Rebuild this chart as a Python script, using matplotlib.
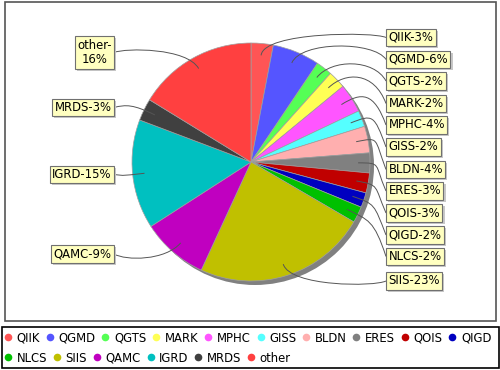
import numpy as np
import matplotlib
matplotlib.use("Agg")
import matplotlib.pyplot as plt
import matplotlib.patheffects as pe
from matplotlib.path import Path
from matplotlib.patches import PathPatch, Rectangle, Circle
from matplotlib.lines import Line2D

# --- data ---
names = ["QIIK", "QGMD", "QGTS", "MARK", "MPHC", "GISS", "BLDN", "ERES",
         "QOIS", "QIGD", "NLCS", "SIIS", "QAMC", "IGRD", "MRDS", "other"]
shares = [3.0, 6.4, 2.2, 2.4, 3.9, 2.2, 3.6, 2.7,
          2.7, 2.0, 2.2, 23.4, 9.0, 14.8, 3.0, 16.2]
colors = ["#FF5555", "#5555FF", "#55FF55", "#FFFF55", "#FF55FF", "#55FFFF",
          "#FFAFAF", "#808080", "#C00000", "#0000C0", "#00C000", "#C0C000",
          "#C000C0", "#00C0C0", "#404040", "#FF4040"]

# label layout (pixels from top): right side in order, left side by name
right_label_y = [37.5, 59.5, 81, 103.5, 125, 147, 169.5, 191, 213, 235, 256.5, 281]
left_label_y = {"QAMC": 254, "IGRD": 174.5, "MRDS": 107.5, "other": 52.5}

W, H = 500, 370
cx, cy, R = 251, 162, 119

fig = plt.figure(figsize=(5, 3.7), dpi=100)
ax = fig.add_axes([0, 0, 1, 1])
plt.rcParams['font.family'] = ['DejaVu Sans']
FS = 8.4

# plot frame and pie shadow
ax.add_patch(Rectangle((5, H - 321), 491, 319, fill=False, edgecolor="#555555", lw=1.2, zorder=0))
ax.add_patch(Circle((cx + 4, H - cy - 4), R, facecolor="#808080", edgecolor="none", zorder=1))

wedges, _ = ax.pie(shares, colors=colors, startangle=90, counterclock=False,
                   center=(cx, H - cy), radius=R, normalize=True,
                   wedgeprops=dict(edgecolor="#A0A0A0", linewidth=0.5))
for w in wedges:
    w.set_zorder(2)

shadow = [pe.SimplePatchShadow(offset=(1.5, -1.5), shadow_rgbFace="#C8C8C8", alpha=1.0), pe.Normal()]

total = sum(shares)
ri = 0
for w, n, v in zip(wedges, names, shares):
    mid = np.deg2rad((w.theta1 + w.theta2) / 2)
    ux, uy = np.cos(mid), np.sin(mid)
    p0 = (cx + 0.9 * R * ux, H - cy + 0.9 * R * uy)
    el = (cx + 1.1 * R * ux, H - cy + 1.1 * R * uy)
    pct = round(v / total * 100)
    if ux >= 0:
        ty = H - right_label_y[ri]
        ri += 1
        tx = 386
        p2 = (tx - 12, el[1])
        ha = "left"
        txt = f"{n}-{pct}%"
        xt = tx + 2.5
    else:
        ty = H - left_label_y[n]
        tx = 114
        p2 = (tx + 12, el[1])
        ha = "right"
        txt = f"{n}-\n{pct}%" if n == "other" else f"{n}-{pct}%"
        xt = tx - 2.5
    path = Path([p0, el, p2, (tx, ty)], [Path.MOVETO, Path.CURVE4, Path.CURVE4, Path.CURVE4])
    ax.add_patch(PathPatch(path, fill=False, edgecolor="#555555", lw=0.7, zorder=3))
    t = ax.text(xt, ty, txt, ha=ha, va="center", fontsize=FS, color="black",
                multialignment="center", linespacing=1.15,
                bbox=dict(boxstyle="square,pad=0.2", facecolor="#FFFFC0", edgecolor="#707070", lw=0.8),
                zorder=5)
    t.get_bbox_patch().set_path_effects(shadow)

ax.set_xlim(0, W)
ax.set_ylim(0, H)
ax.set_aspect("auto")
ax.axis("off")

# legend, two rows packed like the original
ax.add_patch(Rectangle((1.5, H - 368), 497, 41, fill=False, edgecolor="black", lw=1.2, zorder=0))
rows = [range(0, 10), range(10, 16)]
row_y = [338, 358]
for idx, yy in zip(rows, row_y):
    handles = [Line2D([], [], marker="o", ls="none", markersize=5.5,
                      markerfacecolor=colors[i], markeredgecolor="none") for i in idx]
    fig.legend(handles, [names[i] for i in idx], ncol=len(idx),
               loc="center left", bbox_to_anchor=(4 / W, 1 - yy / H),
               frameon=False, fontsize=FS, handlelength=0.7, handletextpad=0.38,
               columnspacing=0.5, borderpad=0, borderaxespad=0)

fig.savefig("out.png", dpi=100)
